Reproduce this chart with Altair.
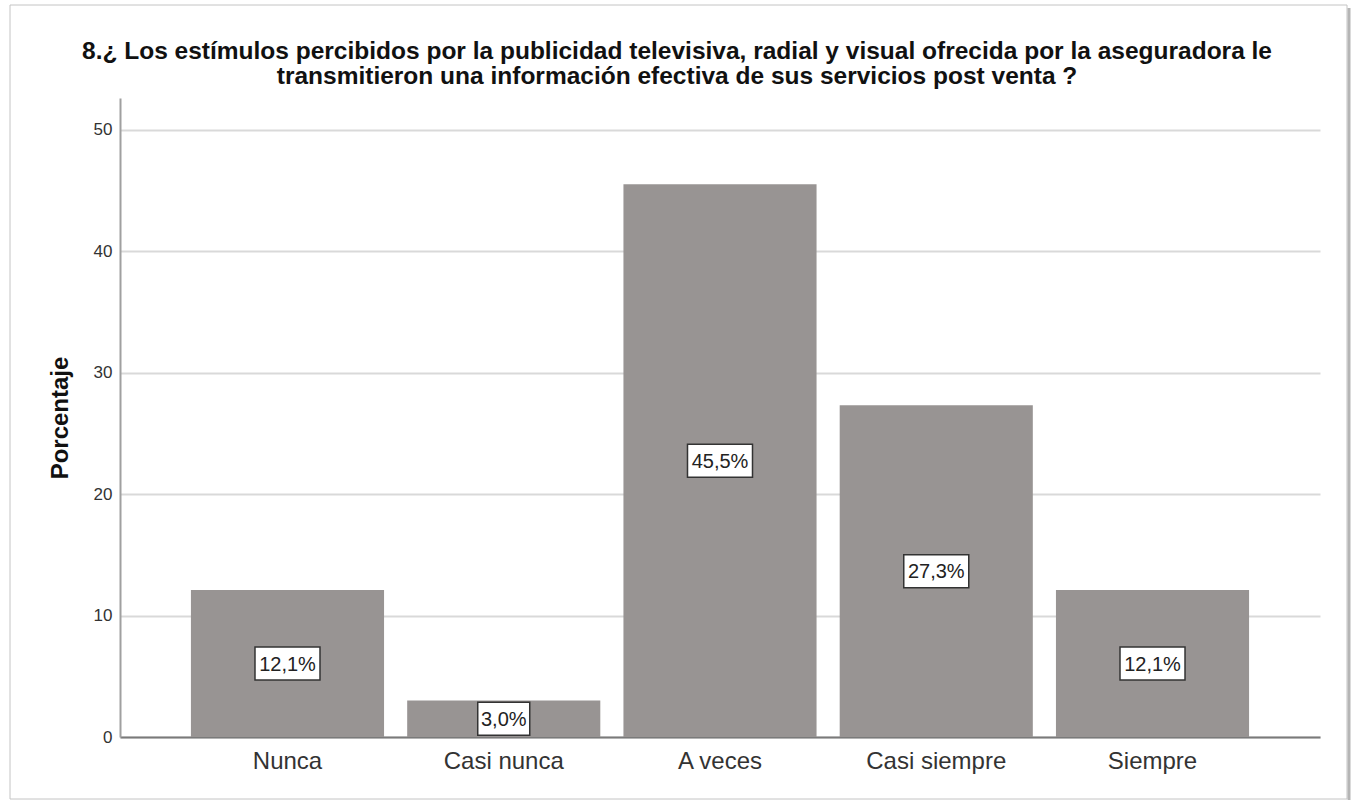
import altair as alt
import pandas as pd

categories = ["Nunca", "Casi nunca", "A veces", "Casi siempre", "Siempre"]
values = [12.1, 3.0, 45.5, 27.3, 12.1]
labels = ["12,1%", "3,0%", "45,5%", "27,3%", "12,1%"]
y_ticks = [0, 10, 20, 30, 40, 50]
title_lines = [
    "8.¿ Los estímulos percibidos por la publicidad televisiva, radial y visual ofrecida por la aseguradora le",
    "transmitieron una información efectiva de sus servicios post venta ?",
]

df = pd.DataFrame({"cat": categories, "val": values, "lab": labels})
df["half"] = df["val"] / 2

FONT = "Liberation Sans"

x_enc = alt.X(
    "cat:N",
    sort=categories,
    scale=alt.Scale(paddingInner=0.107, paddingOuter=0.328),
    axis=alt.Axis(
        title=None, labelAngle=0, labelFontSize=24, labelColor="#333333",
        labelPadding=12, ticks=False, domainColor="#7a7a7a", domainWidth=2,
        labelFont=FONT,
    ),
)

y_scale = alt.Scale(domain=[0, 52.6], nice=False)

bars = alt.Chart(df).mark_bar(color="#989493").encode(
    x=x_enc,
    y=alt.Y(
        "val:Q",
        scale=y_scale,
        axis=alt.Axis(
            title="Porcentaje", values=y_ticks, ticks=False, labelFontSize=17,
            labelColor="#333333", labelPadding=8, domainColor="#a0a0a0",
            domainWidth=2, gridColor="#d9d9d9", gridWidth=2, labelFont=FONT,
            titleFont=FONT, titleFontSize=24, titleFontWeight="bold",
            titleColor="#111111", titleAngle=-90, titleX=-60, titleY=319.5,
            titleBaseline="middle", titleAlign="center",
        ),
    ),
)

boxes = alt.Chart(df).transform_calculate(
    bw="length(datum.lab) * 13"
).mark_bar(
    fill="white", stroke="#333333", strokeWidth=1.5, yOffset=-16.5, y2Offset=16.5
).encode(
    x=alt.X("cat:N", sort=categories),
    y=alt.Y("half:Q", scale=y_scale),
    y2="half:Q",
    size=alt.Size("bw:Q", scale=None, legend=None),
)

texts = alt.Chart(df).mark_text(
    fontSize=20, font=FONT, color="#222222", baseline="middle", align="center", dy=1
).encode(
    x=alt.X("cat:N", sort=categories),
    y=alt.Y("half:Q", scale=y_scale),
    text="lab:N",
)

frame_df = pd.DataFrame({"a": [0]})
frame = alt.Chart(frame_df).mark_rect(
    fill="transparent", stroke="#c4c4c4", strokeWidth=1
).encode(
    x=alt.value(-110), x2=alt.value(1227), y=alt.value(-93), y2=alt.value(701)
)
shadow = alt.Chart(frame_df).mark_rule(color="#b5b5b5", strokeWidth=3).encode(
    x=alt.value(1229), y=alt.value(-90), y2=alt.value(702)
)

chart = alt.layer(frame, shadow, bars, boxes, texts).properties(
    width=1200,
    height=639,
    background="white",
    title=alt.TitleParams(
        text=title_lines, font=FONT, fontSize=24.5, fontWeight="bold",
        color="#111111", anchor="middle", frame="group", dx=-43, dy=97,
        offset=12, lineHeight=25,
    ),
    autosize=alt.AutoSizeParams(type="none"),
    padding={"left": 120, "top": 98, "right": 37, "bottom": 65},
).configure_view(strokeWidth=0, stroke="transparent")

chart.save("out.html", embed_options={"renderer": "svg", "actions": False})
